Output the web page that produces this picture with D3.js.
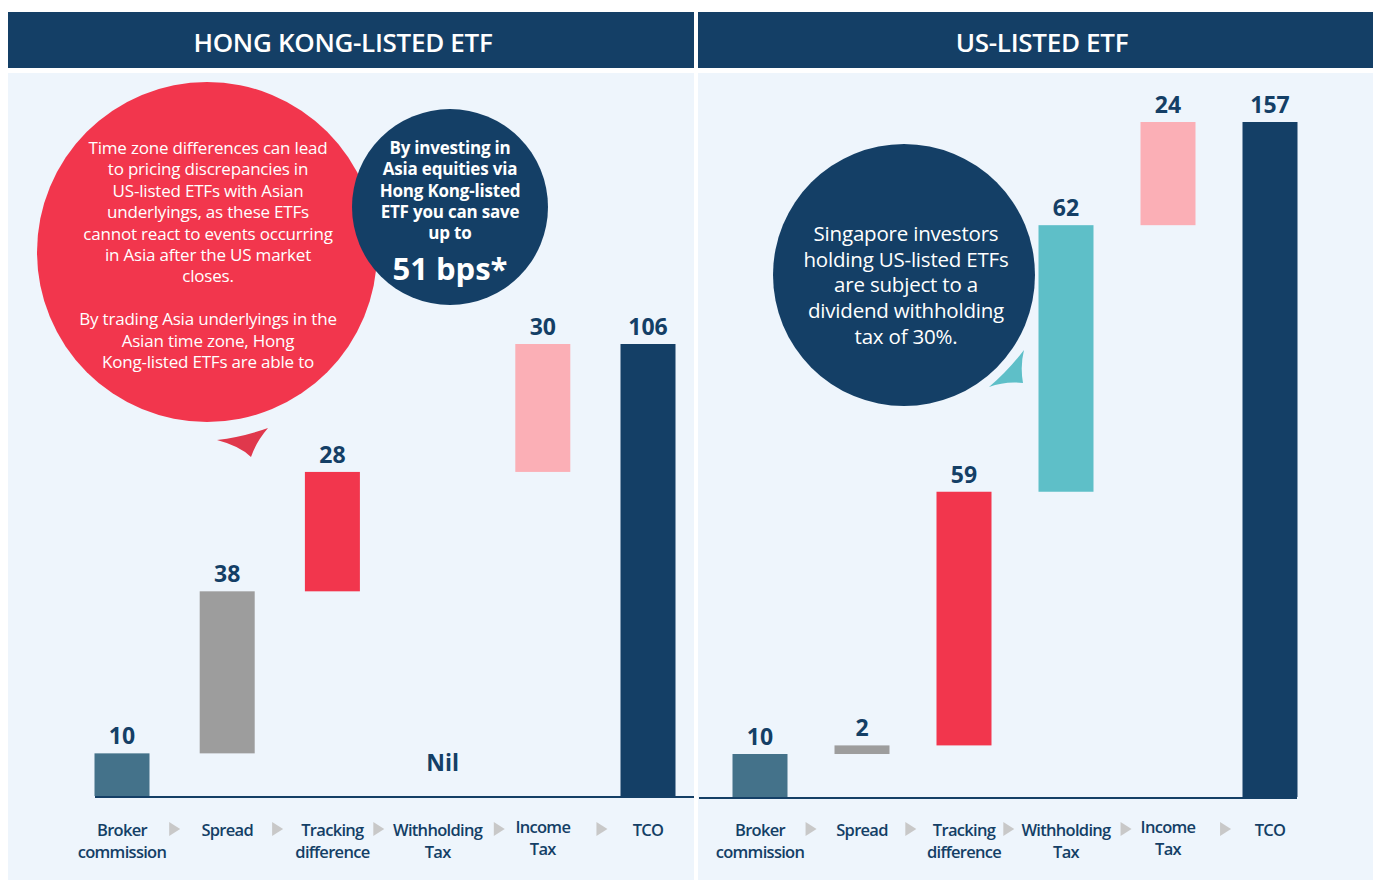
<!DOCTYPE html>
<html>
<head>
<meta charset="utf-8">
<script src="https://cdn.jsdelivr.net/npm/d3@7"></script>
<style>
  body{margin:0;background:#fff;}
  svg{display:block;font-family:"Open Sans","Noto Sans",sans-serif;}
</style>
</head>
<body>
<svg id="chart" width="1373" height="880"></svg>
<script>
// ───── DATA ─────
const steps = ["broker","spread","tracking","withholding","income","tco"];
const categories = [["Broker","commission"],["Spread"],["Tracking","difference"],["Withholding","Tax"],["Income","Tax"],["TCO"]];
const hkValues = [10,38,28,0,30,106];
const hkLabels = ["10","38","28","Nil","30","106"];
const usValues = [10,2,59,62,24,157];
const usLabels = ["10","2","59","62","24","157"];
const panelTitles = ["HONG KONG-LISTED ETF","US-LISTED ETF"];

const hkNoteRed = [
  "Time zone differences can lead",
  "to pricing discrepancies in",
  "US-listed ETFs with Asian",
  "underlyings, as these ETFs",
  "cannot react to events occurring",
  "in Asia after the US market",
  "closes.",
  "",
  "By trading Asia underlyings in the",
  "Asian time zone, Hong",
  "Kong-listed ETFs are able to"
];
const hkNoteNavy = ["By investing in","Asia equities via","Hong Kong-listed","ETF you can save","up to"];
const hkSaving = "51 bps*";
const usNote = ["Singapore investors","holding US-listed ETFs","are subject to a","dividend withholding","tax of 30%."];

const COLOR = {
  broker:"#44728a",
  spread:"#9d9d9d",
  tracking:"#f2364d",
  withholding:"#5ebfc8",
  income:"#fbafb6",
  tco:"#143f66"
};
const NAVY = "#143f66";
const PANEL_BG = "#eef5fc";

const svg = d3.select("#chart");

function drawPanel(cfg){
  const g = svg.append("g");

  // header + body
  g.append("rect").attr("x",cfg.x0).attr("y",12).attr("width",cfg.w).attr("height",56).attr("fill",NAVY);
  g.append("text")
    .attr("x",cfg.titleX).attr("y",52)
    .attr("text-anchor","middle")
    .attr("fill","#fff")
    .attr("font-size",26).attr("font-weight",600)
    .attr("letter-spacing",-0.3)
    .text(cfg.title);
  g.append("rect").attr("x",cfg.x0).attr("y",73).attr("width",cfg.w).attr("height",807).attr("fill",PANEL_BG);

  // waterfall segments
  let run = 0;
  const segs = cfg.values.map((v,i)=>{
    const last = i === cfg.values.length - 1;
    const s = last ? {start:0,end:v} : {start:run,end:run+v};
    if(!last) run += v;
    return Object.assign(s,{key:steps[i],label:cfg.labels[i],lines:categories[i]});
  });

  const x = d3.scalePoint().domain(steps).range(cfg.xr);
  const y = d3.scaleLinear().domain([0,d3.max(cfg.values)]).range([cfg.base,cfg.top]);
  const bw = 55;

  g.selectAll(".bar")
    .data(segs.filter(d=>d.end > d.start))
    .join("rect")
    .attr("class","bar")
    .attr("x",d=>x(d.key) - bw/2)
    .attr("y",d=>y(d.end))
    .attr("width",bw)
    .attr("height",d=>y(d.start) - y(d.end))
    .attr("fill",d=>COLOR[d.key]);

  // baseline
  g.append("line")
    .attr("x1",cfg.lineX[0]).attr("x2",cfg.lineX[1])
    .attr("y1",y(0) + 1).attr("y2",y(0) + 1)
    .attr("stroke",NAVY).attr("stroke-width",2.2);

  // value labels
  g.selectAll(".val")
    .data(segs)
    .join("text")
    .attr("class","val")
    .attr("x",d=>x(d.key) + (d.end > d.start ? 0 : 5))
    .attr("y",d=>d.end > d.start ? y(d.end) - 9 : y(0) - 25)
    .attr("text-anchor","middle")
    .attr("fill",NAVY)
    .attr("font-size",23).attr("font-weight",700)
    .text(d=>d.label);

  // category labels
  const cat = g.selectAll(".cat")
    .data(segs)
    .join("text")
    .attr("class","cat")
    .attr("x",d=>x(d.key))
    .attr("y",d=>d.key === "income" ? 833 : 836)
    .attr("text-anchor","middle")
    .attr("fill",NAVY)
    .attr("font-size",16.5).attr("font-weight",600)
    .attr("letter-spacing",-0.7);
  cat.selectAll("tspan")
    .data(d=>d.lines.map(t=>({t,cx:x(d.key)})))
    .join("tspan")
    .attr("x",d=>d.cx)
    .attr("dy",(d,i)=>i ? 22 : 0)
    .text(d=>d.t);

  // width of first line of every label, so the arrows sit in the gaps
  const firstW = [];
  cat.each(function(){
    firstW.push(this.querySelector("tspan").getComputedTextLength());
  });

  g.selectAll(".arrow")
    .data(steps.slice(1))
    .join("path")
    .attr("class","arrow")
    .attr("transform",(d,i)=>{
      const a = x(steps[i]) + firstW[i]/2;
      const b = x(d) - firstW[i+1]/2;
      return `translate(${(a + b)/2},829)`;
    })
    .attr("d","M-5,-7L6,0L-5,7Z")
    .attr("fill","#c8c8c8");

  return g;
}

const left = drawPanel({
  x0:8, w:686, title:panelTitles[0], titleX:343,
  values:hkValues, labels:hkLabels,
  xr:[122,648], base:796, top:344, lineX:[95,694]
});

const right = drawPanel({
  x0:698, w:675, title:panelTitles[1], titleX:1042,
  values:usValues, labels:usLabels,
  xr:[760,1270], base:797, top:122, lineX:[699,1297]
});

// ───── HK CALLOUTS ─────
left.append("path")
  .attr("d","M217,440 Q243,437 268,428 Q256,442 251,457 Q240,446 217,440Z")
  .attr("fill","#e0384c");
left.append("circle").attr("cx",207).attr("cy",252).attr("r",170).attr("fill","#f2364d");
left.append("text")
  .attr("text-anchor","middle").attr("fill","#fff")
  .attr("font-size",17).attr("letter-spacing",-0.2)
  .selectAll("tspan")
  .data(hkNoteRed)
  .join("tspan")
  .attr("x",208)
  .attr("y",(d,i)=>154 + i*21.4)
  .text(d=>d);

left.append("circle").attr("cx",450).attr("cy",207).attr("r",98).attr("fill",NAVY);
left.append("text")
  .attr("text-anchor","middle").attr("fill","#fff")
  .attr("font-size",17).attr("font-weight",700)
  .attr("letter-spacing",-0.2)
  .selectAll("tspan")
  .data(hkNoteNavy)
  .join("tspan")
  .attr("x",450)
  .attr("y",(d,i)=>154 + i*21.3)
  .text(d=>d);
left.append("text")
  .attr("x",450).attr("y",280)
  .attr("text-anchor","middle").attr("fill","#fff")
  .attr("font-size",31).attr("font-weight",700)
  .text(hkSaving);

// ───── US CALLOUT ─────
right.append("circle").attr("cx",904).attr("cy",275).attr("r",131).attr("fill",NAVY);
right.append("path")
  .attr("d","M989,387 Q1008,371 1024,350 Q1020,366 1023,383 Q1005,381 989,387Z")
  .attr("fill","#5ebfc8");
right.append("text")
  .attr("text-anchor","middle").attr("fill","#fff")
  .attr("font-size",20.5).attr("letter-spacing",-0.2)
  .selectAll("tspan")
  .data(usNote)
  .join("tspan")
  .attr("x",906)
  .attr("y",(d,i)=>241 + i*25.7)
  .text(d=>d);
</script>
</body>
</html>
